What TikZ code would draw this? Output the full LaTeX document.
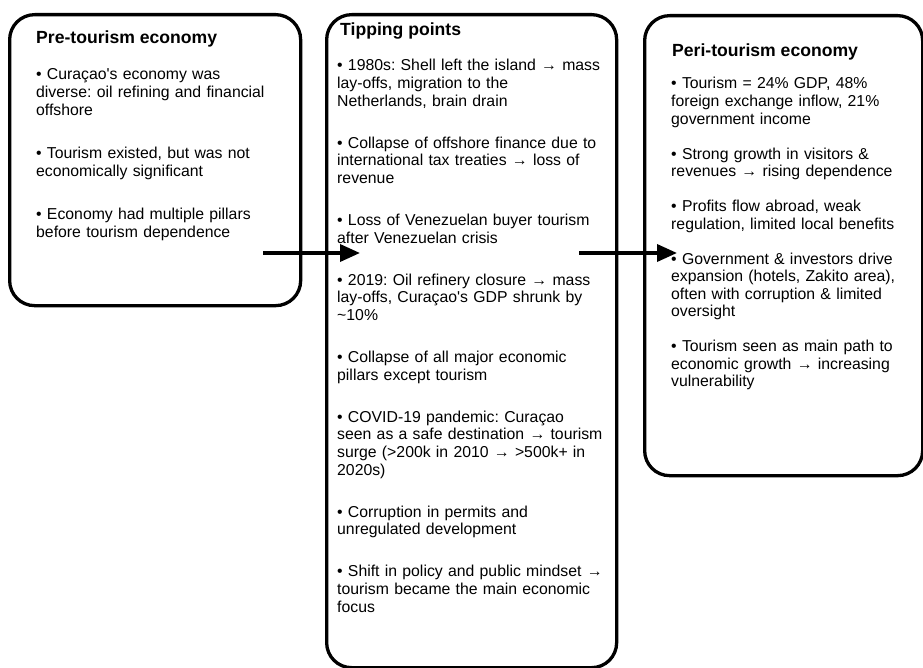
\documentclass[tikz,border=0pt]{standalone}
\usepackage{fontspec}
\setmainfont{Liberation Sans}
\usepackage{tikz}
\usetikzlibrary{arrows.meta}
\definecolor{inkblack}{HTML}{000000}

\newcommand{\bodyfont}{\fontsize{15.8}{17.6}\selectfont}
\newcommand{\apos}{\textquotesingle}
\frenchspacing

\begin{document}
\begin{tikzpicture}[x=1pt,y=-1pt,
    panel/.style={draw=inkblack,line width=3.3pt,rounded corners=25pt,
      anchor=north west,inner sep=0pt},
    head/.style={anchor=base west,inner sep=0pt,font=\fontsize{17.6}{20}\selectfont\bfseries},
    body/.style={anchor=base west,inner sep=0pt,text width=280pt,align=left,font=\bodyfont},
    flow/.style={inkblack,line width=3.6pt,-{Triangle[length=20pt,width=17pt]}}]
  \useasboundingbox (0,0) rectangle (923,668);

  % the three stages
  \node[panel,minimum width=291pt,minimum height=291pt] (pre) at (8,13) {};
  \node[panel,minimum width=290pt,minimum height=653pt] (tip) at (325,13) {};
  \node[panel,minimum width=278pt,minimum height=460pt] (peri) at (643,14) {};

  \node[head] (preT) at (36,43.3) {Pre-tourism economy};
  \node[body] (preB) at (36,80) {%
    • Cura\c{c}ao\apos s economy was\\ diverse: oil refining and financial\\ offshore\\[26pt]
    • Tourism existed, but was not\\ economically significant\\[26pt]
    • Economy had multiple pillars\\ before tourism dependence};

  \node[head] (tipT) at (340,36) {Tipping points};
  \node[body] (tipB) at (337,71) {%
    • 1980s: Shell left the island → mass\\ lay-offs, migration to the\\ Netherlands, brain drain\\[24.5pt]
    • Collapse of offshore finance due to\\ international tax treaties → loss of\\ revenue\\[24.5pt]
    • Loss of Venezuelan buyer tourism\\ after Venezuelan crisis\\[24.5pt]
    • 2019: Oil refinery closure → mass\\ lay-offs, Cura\c{c}ao\apos s GDP shrunk by\\ \textasciitilde 10\%\\[24.5pt]
    • Collapse of all major economic\\ pillars except tourism\\[24.5pt]
    • COVID-19 pandemic: Cura\c{c}ao\\ seen as a safe destination → tourism\\ surge (>200k in 2010 → >500k+ in\\ 2020s)\\[24.5pt]
    • Corruption in permits and\\ unregulated development\\[24.5pt]
    • Shift in policy and public mindset →\\ tourism became the main economic\\ focus};

  \node[head] (periT) at (672,56.5) {Peri-tourism economy};
  \node[body,text width=245pt] (periB) at (671,89) {%
    • Tourism = 24\% GDP, 48\%\\ foreign exchange inflow, 21\%\\ government income\\[17.3pt]
    • Strong growth in visitors \&\\ revenues → rising dependence\\[17.3pt]
    • Profits flow abroad, weak\\ regulation, limited local benefits\\[17.3pt]
    • Government \& investors drive\\ expansion (hotels, Zakito area),\\ often with corruption \& limited\\ oversight\\[17.3pt]
    • Tourism seen as main path to\\ economic growth → increasing\\ vulnerability};

  % transitions between stages
  \coordinate (out1) at (263,253);
  \coordinate (in1) at (360,253);
  \coordinate (out2) at (579,253);
  \coordinate (in2) at (677,253);
  \draw[flow] (out1) -- (in1);
  \draw[flow] (out2) -- (in2);
\end{tikzpicture}
\end{document}
